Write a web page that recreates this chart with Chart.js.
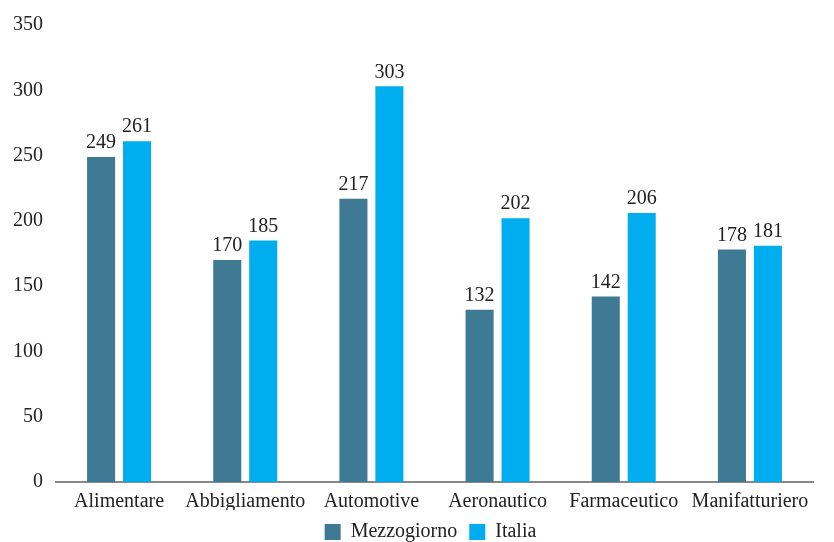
<!DOCTYPE html>
<html><head><meta charset="utf-8">
<script src="https://cdn.jsdelivr.net/npm/chart.js@4/dist/chart.umd.min.js"></script>
<style>html,body{margin:0;padding:0;background:#fff}#wrap{width:834px;height:542px}</style>
</head><body><div id="wrap"><canvas id="c"></canvas></div>
<script>
const categories = ["Alimentare","Abbigliamento","Automotive","Aeronautico","Farmaceutico","Manifatturiero"];
const mezzogiorno = [249,170,217,132,142,178];
const italia = [261,185,303,202,206,181];
const seriesNames = ["Mezzogiorno","Italia"];
const yTicks = [0,50,100,150,200,250,300,350];

const FONT = "'Liberation Serif', serif";
const labelPlugin = {
  id:'valLabels',
  afterLayout(chart){
    if(chart.legend){ chart.legend.left += 24; chart.legend.right += 24; }
  },
  afterDatasetsDraw(chart){
    const ctx = chart.ctx;
    ctx.save();
    ctx.font = "20px " + FONT;
    ctx.fillStyle = "#222";
    ctx.textAlign = "center";
    ctx.textBaseline = "bottom";
    chart.data.datasets.forEach((ds,i)=>{
      chart.getDatasetMeta(i).data.forEach((bar,j)=>{
        ctx.fillText(String(ds.data[j]), bar.x, bar.y - 4);
      });
    });
    ctx.restore();
  }
};

new Chart(document.getElementById('c'),{
  type:'bar',
  data:{labels:categories,datasets:[
    {label:seriesNames[0],data:mezzogiorno,backgroundColor:'#3E7A93',categoryPercentage:0.57,barPercentage:0.78},
    {label:seriesNames[1],data:italia,backgroundColor:'#00AEEF',categoryPercentage:0.57,barPercentage:0.78}
  ]},
  options:{
    responsive:true,maintainAspectRatio:false,animation:false,
    layout:{padding:{top:14,right:21,left:0,bottom:-10}},
    plugins:{
      legend:{position:'bottom',labels:{font:{family:FONT,size:20},color:'#222',boxWidth:16,boxHeight:16,padding:12}},
      tooltip:{enabled:false}
    },
    scales:{
      x:{grid:{display:false,drawTicks:false},border:{display:true,color:'#888',width:2},
         afterFit(s){s.height -= 12;},
         ticks:{font:{family:FONT,size:20},color:'#222',padding:8}},
      y:{min:0,max:350,afterBuildTicks(a){a.ticks=yTicks.map(v=>({value:v}));},
         grid:{display:false,drawTicks:false},border:{display:false},
         ticks:{font:{family:FONT,size:20},color:'#222',padding:13}}
    }
  },
  plugins:[labelPlugin]
});
</script></body></html>
